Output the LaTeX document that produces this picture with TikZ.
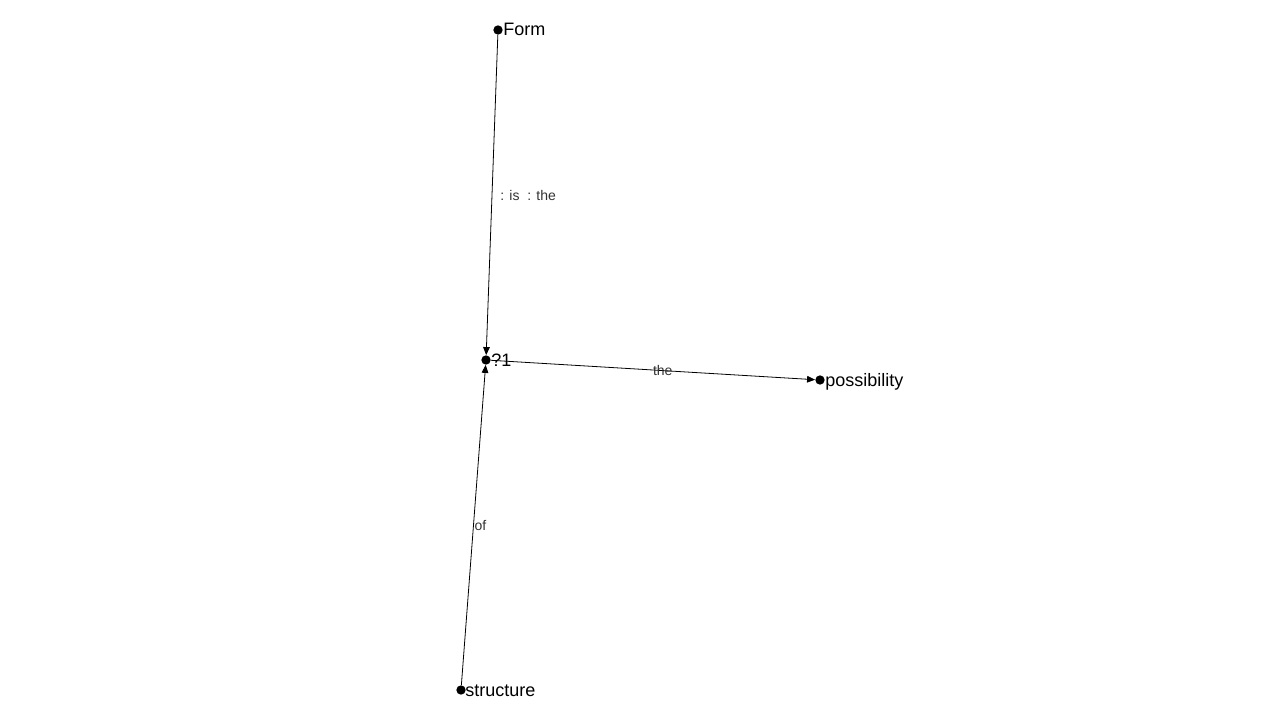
\documentclass[tikz,border=0pt]{standalone}
\usepackage{fontspec}
\setmainfont{Liberation Sans}
\usetikzlibrary{arrows.meta}
\begin{document}
\begin{tikzpicture}[x=0.75pt,y=-0.75pt,
  vertex/.style={circle,fill=black,inner sep=0pt,minimum size=7pt},
  vlabel/.style={font=\fontsize{13.5}{15}\selectfont,inner sep=0pt,anchor=base west},
  elabel/.style={font=\fontsize{10.5}{12}\selectfont,text=black!80,inner sep=0pt},
  edge/.style={draw=black,line width=0.6pt,-{Triangle[length=6pt,width=5pt]}}]
\useasboundingbox (0,0) rectangle (1280,720);
\node[vertex] (form) at (498,30) {};
\node[vertex] (q1) at (486,360) {};
\node[vertex] (poss) at (820,380) {};
\node[vertex] (struct) at (461,690) {};
\node[vlabel] (formL) at (503,36) {Form};
\node[vlabel] (q1L) at (491,366) {?1};
\node[vlabel] (possL) at (825,386) {possibility};
\node[vlabel] (structL) at (465,696) {structure};
\draw[edge] (form) -- node[elabel,pos=0.5,anchor=west,xshift=6pt] (e1) {: is\ \ : the} (q1);
\draw[edge] (struct) -- node[elabel,pos=0.5,anchor=west,xshift=0.5pt] (e2) {of} (q1);
\draw[edge] (q1) -- node[elabel,pos=0.53] (e3) {the} (poss);
\end{tikzpicture}
\end{document}
